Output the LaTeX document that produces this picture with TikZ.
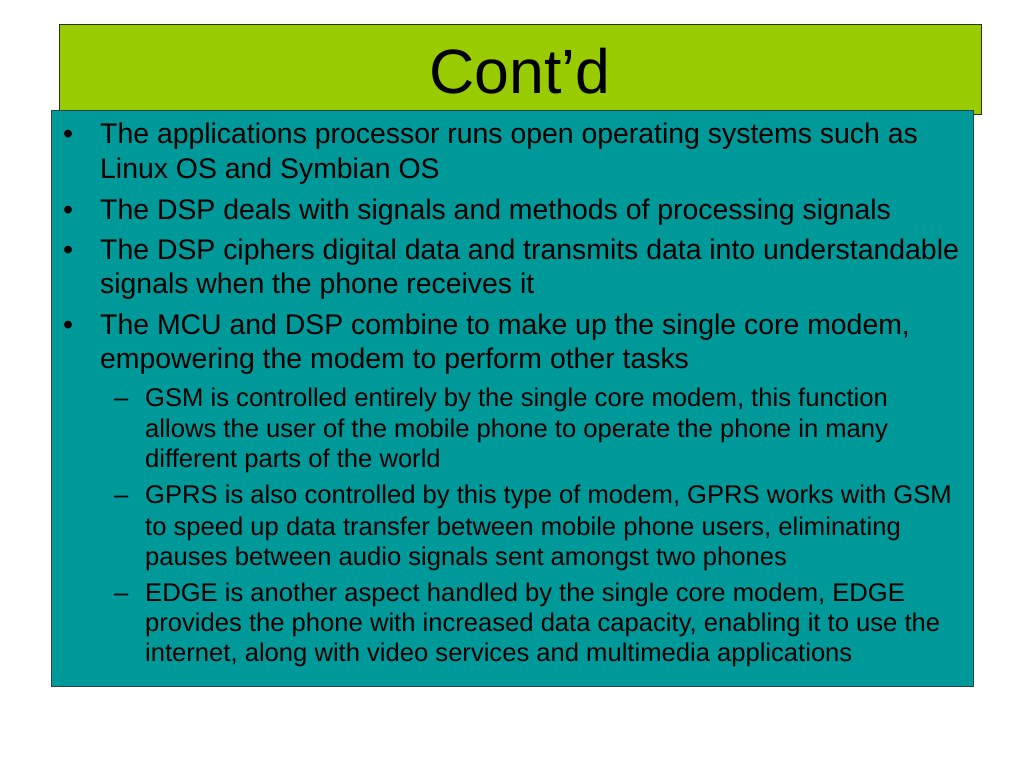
\documentclass[tikz,border=0pt]{standalone}
\usepackage{fontspec}
\setmainfont{Liberation Sans}
\definecolor{titlegreen}{RGB}{153,204,0}
\definecolor{bodyteal}{RGB}{0,153,153}
\definecolor{tealedge}{RGB}{40,70,70}
\definecolor{greenedge}{RGB}{40,50,0}
\newcommand{\mainsz}{\fontsize{28.4}{34}\selectfont}
\newcommand{\subsz}{\fontsize{25.6}{30}\selectfont}
\newcommand{\titlesz}{\fontsize{62.6}{70}\selectfont}
\begin{document}
\begin{tikzpicture}[x=1pt,y=-1pt,
  mainline/.style={anchor=base west, inner sep=0pt, font=\mainsz, text=black},
  subline/.style={anchor=base west, inner sep=0pt, font=\subsz, text=black},
  bulletmark/.style={anchor=base west, inner sep=0pt, font=\mainsz, text=black},
  dashmark/.style={anchor=base west, inner sep=0pt, font=\subsz, text=black}]
\useasboundingbox (0,0) rectangle (1024,768);
\fill[white] (0,0) rectangle (1024,768);
% title box
\draw[fill=titlegreen, draw=greenedge, line width=1pt] (59,25) rectangle (981,114);
\node[anchor=base, inner sep=0pt, font=\titlesz] (title) at (520,93) {Cont’d};
% body box
\draw[fill=bodyteal, draw=tealedge, line width=1pt] (51,110) rectangle (973,686);
% main bullets
\node[bulletmark] (b1) at (63,143) {•};
\node[mainline] (l1) at (100,143) {The applications processor runs open operating systems such as};
\node[mainline] (l2) at (100,178) {Linux OS and Symbian OS};
\node[bulletmark] (b2) at (63,219) {•};
\node[mainline] (l3) at (100,219) {The DSP deals with signals and methods of processing signals};
\node[bulletmark] (b3) at (63,259) {•};
\node[mainline] (l4) at (100,259) {The DSP ciphers digital data and transmits data into understandable};
\node[mainline] (l5) at (100,293) {signals when the phone receives it};
\node[bulletmark] (b4) at (63,334) {•};
\node[mainline] (l6) at (100,334) {The MCU and DSP combine to make up the single core modem,};
\node[mainline] (l7) at (100,368) {empowering the modem to perform other tasks};
% sub bullets
\node[dashmark] (d1) at (114,406) {–};
\node[subline] (s1) at (145,406) {GSM is controlled entirely by the single core modem, this function};
\node[subline] (s2) at (145,437) {allows the user of the mobile phone to operate the phone in many};
\node[subline] (s3) at (145,467) {different parts of the world};
\node[dashmark] (d2) at (114,503) {–};
\node[subline] (s4) at (145,503) {GPRS is also controlled by this type of modem, GPRS works with GSM};
\node[subline] (s5) at (145,535) {to speed up data transfer between mobile phone users, eliminating};
\node[subline] (s6) at (145,565) {pauses between audio signals sent amongst two phones};
\node[dashmark] (d3) at (114,601) {–};
\node[subline] (s7) at (145,601) {EDGE is another aspect handled by the single core modem, EDGE};
\node[subline] (s8) at (145,631) {provides the phone with increased data capacity, enabling it to use the};
\node[subline] (s9) at (145,661) {internet, along with video services and multimedia applications};
\end{tikzpicture}
\end{document}
